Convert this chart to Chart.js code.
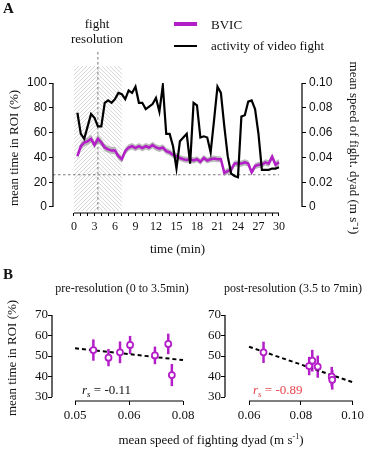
<!DOCTYPE html>
<html>
<head>
<meta charset="utf-8">
<script src="https://cdn.jsdelivr.net/npm/chart.js@4.4.1/dist/chart.umd.min.js"></script>
<style>
  body { margin: 0; background: #fff; }
  #page { position: relative; width: 371px; height: 449px; overflow: hidden;
    font-family: "Liberation Serif", "Times New Roman", serif; color: #111; }
  canvas { position: absolute; }
  .txt { position: absolute; white-space: nowrap; font-size: 13px; line-height: 15px; }
  .panel { font-family: "Liberation Serif", serif; font-weight: bold; font-size: 15px; }
  .key { position: absolute; }
  sub { font-size: 9px; vertical-align: -3px; }
  sup { font-size: 8px; vertical-align: 5px; line-height: 0; }
</style>
</head>
<body>
<div id="page">
  <canvas id="top" width="371" height="260" style="left:0;top:0"></canvas>
  <canvas id="pre" width="200" height="179" style="left:0;top:270px"></canvas>
  <canvas id="post" width="181" height="179" style="left:190px;top:270px"></canvas>

  <div class="txt panel" style="left:3px;top:1px">A</div>
  <div class="txt" style="left:57px;top:16px;width:80px;text-align:center">fight<br>resolution</div>
  <div class="key" style="left:174px;top:22px;width:23px;height:3.5px;background:#b41ec8"></div>
  <div class="txt" style="left:211px;top:17px">BVIC</div>
  <div class="key" style="left:174px;top:45px;width:23px;height:2px;background:#000"></div>
  <div class="txt" style="left:211px;top:38px">activity of video fight</div>

  <div class="txt panel" style="left:3px;top:267px">B</div>
  <div class="txt" style="left:22px;top:281px;width:200px;text-align:center;font-size:12px">pre-resolution (0 to 3.5min)</div>
  <div class="txt" style="left:193px;top:281px;width:200px;text-align:center;font-size:12px">post-resolution (3.5 to 7min)</div>
  <div class="txt" style="left:82px;top:382px"><i>r</i><sub><i>s</i></sub> = -0.11</div>
  <div class="txt" style="left:253px;top:382px;color:#e8464e"><i>r</i><sub><i>s</i></sub> = -0.89</div>
  <div class="txt" style="left:61px;top:432px;width:300px;text-align:center">mean speed of fighting dyad (m s<sup>-1</sup>)</div>
</div>

<script>
// data: panel A time course (minutes)
const times = [0.5, 1, 1.5, 2, 2.5, 3, 3.5, 4, 4.5, 5, 5.5, 6, 6.5, 7, 7.5, 8, 8.5, 9, 9.5, 10,
  10.5, 11, 11.5, 12, 12.5, 13, 13.5, 14, 14.5, 15, 15.5, 16, 16.5, 17, 17.5, 18, 18.5, 19, 19.5, 20,
  20.5, 21, 21.5, 22, 22.5, 23, 23.5, 24, 24.5, 25, 25.5, 26, 26.5, 27, 27.5, 28, 28.5, 29, 29.5, 30]
const bvic = [41, 49, 52, 53, 55, 50, 55, 52, 48, 46.5, 45.5, 45.5, 41, 38.5, 45, 48, 49, 47.5, 49, 47.5,
  49, 48, 50, 48, 47, 48, 45, 44, 42, 41, 39.5, 38.5, 38, 38.5, 37.5, 38.5, 36.5, 39.5, 37.5, 38.5,
  39, 38.5, 38.5, 27.5, 29, 30, 35, 35, 35, 36, 35, 28, 33, 34, 34, 36, 35, 40.5, 34, 36]
const bvicSem = [3, 3, 3.2, 3, 3.2, 3, 3.2, 3, 3, 2.8, 2.8, 2.8, 2.8, 2.8, 2.8, 2.6, 2.6, 2.6, 2.6, 2.6,
  2.6, 2.6, 2.6, 2.6, 2.6, 2.6, 2.5, 2.5, 2.5, 2.5, 2.5, 2.5, 2.5, 2.5, 2.5, 2.5, 2.5, 2.5, 2.5, 2.5,
  2.5, 2.5, 2.5, 2.5, 2.5, 2.5, 2.5, 2.5, 2.5, 2.5, 2.5, 2.5, 2.5, 2.5, 2.5, 2.5, 2.8, 2.8, 2.8, 2.8]
const fightSpeed = [0.076, 0.059, 0.055, 0.065, 0.075, 0.072, 0.065, 0.065, 0.084, 0.086, 0.084, 0.087,
  0.092, 0.091, 0.087, 0.094, 0.092, 0.097, 0.084, 0.084, 0.079, 0.081, 0.083, 0.088, 0.077, 0.098,
  0.059, 0.059, 0.049, 0.031, 0.053, 0.056, 0.059, 0.035, 0.084, 0.082, 0.056, 0.057, 0.056, 0.044,
  0.07, 0.097, 0.092, 0.065, 0.041, 0.027, 0.025, 0.024, 0.073, 0.074, 0.085, 0.086, 0.079, 0.059,
  0.030, 0.030, 0.030, 0.031, 0.031, 0.032]
const timeTicks = [0, 1, 2, 3, 4, 5, 6, 7, 8, 9, 10, 11, 12, 13, 14, 15, 16, 17, 18, 19, 20,
  21, 22, 23, 24, 25, 26, 27, 28, 29, 30]
const timeTickLabels = ['0', '', '', '3', '', '', '6', '', '', '9', '', '', '12', '', '', '15', '', '',
  '18', '', '', '21', '', '', '24', '', '', '27', '', '', '30']
const roiTicks = [0, 20, 40, 60, 80, 100]
const speedTicks = [0, 0.02, 0.04, 0.06, 0.08, 0.10]
const speedTickLabels = ['0', '0.02', '0.04', '0.06', '0.08', '0.10']
const resolutionTime = 3.5
const hatchRange = [0, 7]
const baseline = 26

// data: panel B
const preSpeed = [0.0551, 0.0593, 0.0625, 0.0653, 0.0722, 0.0759, 0.0769]
const preTime = [52.9, 49.2, 51.8, 55.4, 50.3, 55.9, 40.7]
const preErr = [5.2, 4.2, 5.3, 4.4, 4.3, 5.0, 5.4]
const preFitX = [0.05, 0.08]
const preFitY = [53.8, 48.0]
const preXTicks = [0.05, 0.065, 0.08]
const preXTickLabels = ['0.05', '0.06', '0.08']
const postSpeed = [0.0656, 0.0832, 0.0844, 0.0865, 0.0919, 0.0921]
const postTime = [51.8, 45.1, 47.7, 44.8, 39.9, 38.4]
const postErr = [5.2, 4.5, 5.3, 5.4, 4.8, 4.8]
const postFitX = [0.06, 0.10]
const postFitY = [54.5, 37.2]
const postXTicks = [0.06, 0.08, 0.10]
const postXTickLabels = ['0.06', '0.08', '0.10']
const bTicks = [30, 40, 50, 60, 70]

const purple = '#b41ec8'
const serif = '"Liberation Serif", "Times New Roman", serif'
const sans = '"Liberation Sans", Arial, sans-serif'

Chart.defaults.animation = false
Chart.defaults.color = '#111'

const setTicks = vals => scale => { scale.ticks = vals.map(v => ({ value: v })) }
const pts = (xs, ys) => xs.map((x, i) => ({ x, y: ys[i] }))

// panel A decorations (hatch, dashed guides) and offset axis lines
const panelA = {
  id: 'panelA',
  beforeDatasetsDraw(chart) {
    const { ctx, chartArea } = chart
    const { x, y } = chart.scales
    const x0 = x.getPixelForValue(hatchRange[0])
    const xm = x.getPixelForValue(resolutionTime)
    const x1 = x.getPixelForValue(hatchRange[1])
    const top = 66, bot = chartArea.bottom - 2
    ctx.save()
    ctx.strokeStyle = '#d2d2d2'
    ctx.lineWidth = 0.9
    // left half
    ctx.save()
    ctx.beginPath(); ctx.rect(x0, top, xm - x0, bot - top); ctx.clip()
    ctx.beginPath()
    for (let k = -200; k < 200; k += 4) {
      ctx.moveTo(x0 + k, bot); ctx.lineTo(x0 + k + (bot - top), top)
    }
    ctx.stroke()
    ctx.restore()
    // right half
    ctx.save()
    ctx.beginPath(); ctx.rect(xm, top, x1 - xm, bot - top); ctx.clip()
    ctx.beginPath()
    for (let k = -200; k < 200; k += 4) {
      ctx.moveTo(xm + k, top); ctx.lineTo(xm + k + (bot - top), bot)
    }
    ctx.stroke()
    ctx.restore()
    // dashed guides
    ctx.strokeStyle = '#666'
    ctx.setLineDash([2.5, 2.5])
    ctx.beginPath()
    ctx.moveTo(xm, 52); ctx.lineTo(xm, bot)
    const yb = y.getPixelForValue(baseline)
    ctx.moveTo(chartArea.left, yb); ctx.lineTo(x.getPixelForValue(30), yb)
    ctx.stroke()
    ctx.restore()
  },
  afterDraw(chart) {
    const { ctx, chartArea } = chart
    const { x, y, y2 } = chart.scales
    ctx.save()
    ctx.strokeStyle = '#000'
    ctx.lineWidth = 1.2
    ctx.beginPath()
    ctx.moveTo(chartArea.left, y.getPixelForValue(0)); ctx.lineTo(chartArea.left, y.getPixelForValue(100))
    ctx.moveTo(chartArea.right, y2.getPixelForValue(0)); ctx.lineTo(chartArea.right, y2.getPixelForValue(0.1))
    ctx.moveTo(x.getPixelForValue(0), chartArea.bottom); ctx.lineTo(x.getPixelForValue(30), chartArea.bottom)
    ctx.stroke()
    ctx.restore()
  }
}

new Chart(document.getElementById('top'), {
  type: 'line',
  data: {
    datasets: [
      {
        data: pts(times, fightSpeed), yAxisID: 'y2',
        borderColor: '#000', borderWidth: 2.2, pointRadius: 0, tension: 0
      },
      {
        data: pts(times, bvic), yAxisID: 'y',
        borderColor: purple, borderWidth: 2.5, pointRadius: 0, tension: 0
      },
      {
        data: pts(times, bvic.map((v, i) => v + bvicSem[i])), yAxisID: 'y',
        borderWidth: 0, pointRadius: 0, fill: '+1', backgroundColor: 'rgba(140,140,140,0.6)'
      },
      {
        data: pts(times, bvic.map((v, i) => v - bvicSem[i])), yAxisID: 'y',
        borderWidth: 0, pointRadius: 0
      }
    ]
  },
  options: {
    responsive: false,
    devicePixelRatio: 1,
    layout: { padding: { left: 5, top: 83, right: 0, bottom: 0 } },
    plugins: { legend: { display: false }, tooltip: { enabled: false } },
    scales: {
      x: {
        type: 'linear', min: -3.07, max: 33.37,
        afterBuildTicks: setTicks(timeTicks),
        afterFit: s => { s.height = 47 },
        border: { display: false },
        grid: { drawOnChartArea: false, tickLength: 3, color: '#000' },
        ticks: {
          autoSkip: false, maxRotation: 0, padding: 4,
          font: { family: serif, size: 12 },
          callback: (v, i) => timeTickLabels[i]
        },
        title: { display: true, text: 'time (min)', font: { family: serif, size: 13 }, padding: { top: 0, bottom: 3 } }
      },
      y: {
        position: 'left', min: -4.84, max: 100,
        afterBuildTicks: setTicks(roiTicks),
        afterFit: s => { s.width = 48 },
        border: { display: false },
        grid: { drawOnChartArea: false, tickLength: 4, color: '#000' },
        ticks: { padding: 2, font: { family: sans, size: 12 } },
        title: { display: true, text: 'mean time in ROI (%)', font: { family: serif, size: 13 }, padding: { top: 2, bottom: 0 } }
      },
      y2: {
        position: 'right', min: -0.00484, max: 0.1,
        afterBuildTicks: setTicks(speedTicks),
        afterFit: s => { s.width = 69 },
        border: { display: false },
        grid: { drawOnChartArea: false, tickLength: 4, color: '#000' },
        ticks: { padding: 3, font: { family: sans, size: 12 }, callback: (v, i) => speedTickLabels[i] },
        title: { display: true, text: 'mean speed of fight. dyad (m s⁻¹)', font: { family: serif, size: 13 }, padding: { top: 10, bottom: 0 } }
      }
    }
  },
  plugins: [panelA]
})

// error bars + offset axes for panel B scatter plots
function panelB(xTicks) {
  return {
    id: 'panelB',
    beforeDatasetsDraw(chart) {
      const { ctx } = chart
      const { x, y } = chart.scales
      ctx.save()
      ctx.strokeStyle = purple
      ctx.lineWidth = 2.5
      chart.data.datasets[0].data.forEach(p => {
        const px = x.getPixelForValue(p.x)
        ctx.beginPath()
        ctx.moveTo(px, y.getPixelForValue(p.y - p.err))
        ctx.lineTo(px, y.getPixelForValue(p.y + p.err))
        ctx.stroke()
      })
      ctx.restore()
    },
    afterDraw(chart) {
      const { ctx, chartArea } = chart
      const { x, y } = chart.scales
      ctx.save()
      ctx.strokeStyle = '#000'
      ctx.lineWidth = 1.2
      ctx.beginPath()
      ctx.moveTo(chartArea.left, y.getPixelForValue(bTicks[0]))
      ctx.lineTo(chartArea.left, y.getPixelForValue(bTicks[bTicks.length - 1]))
      ctx.moveTo(x.getPixelForValue(xTicks[0]), chartArea.bottom)
      ctx.lineTo(x.getPixelForValue(xTicks[xTicks.length - 1]), chartArea.bottom)
      ctx.stroke()
      ctx.restore()
    }
  }
}

function scatterChart(id, speed, time, err, fitX, fitY, xTicks, xLabels, xMin, xMax, padLeft, padRight, yWidth, yTitle) {
  new Chart(document.getElementById(id), {
    type: 'scatter',
    data: {
      datasets: [
        {
          data: speed.map((s, i) => ({ x: s, y: time[i], err: err[i] })),
          pointRadius: 3, pointBorderWidth: 1.8, pointBorderColor: purple, pointBackgroundColor: '#fff'
        },
        {
          type: 'line', data: pts(fitX, fitY),
          borderColor: '#000', borderWidth: 2, borderDash: [4, 3], pointRadius: 0
        }
      ]
    },
    options: {
      responsive: false,
      devicePixelRatio: 1,
      layout: { padding: { left: padLeft, top: 45, right: padRight, bottom: 0 } },
      plugins: { legend: { display: false }, tooltip: { enabled: false } },
      scales: {
        x: {
          type: 'linear', min: xMin, max: xMax,
          afterBuildTicks: setTicks(xTicks),
          afterFit: s => { s.height = 48 },
          border: { display: false },
          grid: { drawOnChartArea: false, tickLength: 4, color: '#000' },
          ticks: { autoSkip: false, maxRotation: 0, padding: 3, font: { family: serif, size: 13 }, callback: (v, i) => xLabels[i] }
        },
        y: {
          min: 28.05, max: 70,
          afterBuildTicks: setTicks(bTicks),
          afterFit: s => { s.width = yWidth },
          border: { display: false },
          grid: { drawOnChartArea: false, tickLength: 4, color: '#000' },
          ticks: { padding: 0, font: { family: serif, size: 13 } },
          title: { display: !!yTitle, text: yTitle || '', font: { family: serif, size: 13 }, padding: { top: 3, bottom: 0 } }
        }
      }
    },
    plugins: [panelB(xTicks)]
  })
}

scatterChart('pre', preSpeed, preTime, preErr, preFitX, preFitY, preXTicks, preXTickLabels,
  0.04361, 0.08194, 2, 10, 50, 'mean time in ROI (%)')
scatterChart('post', postSpeed, postTime, postErr, postFitX, postFitY, postXTicks, postXTickLabels,
  0.05074, 0.10481, 0, 0, 35, null)
</script>
</body>
</html>
